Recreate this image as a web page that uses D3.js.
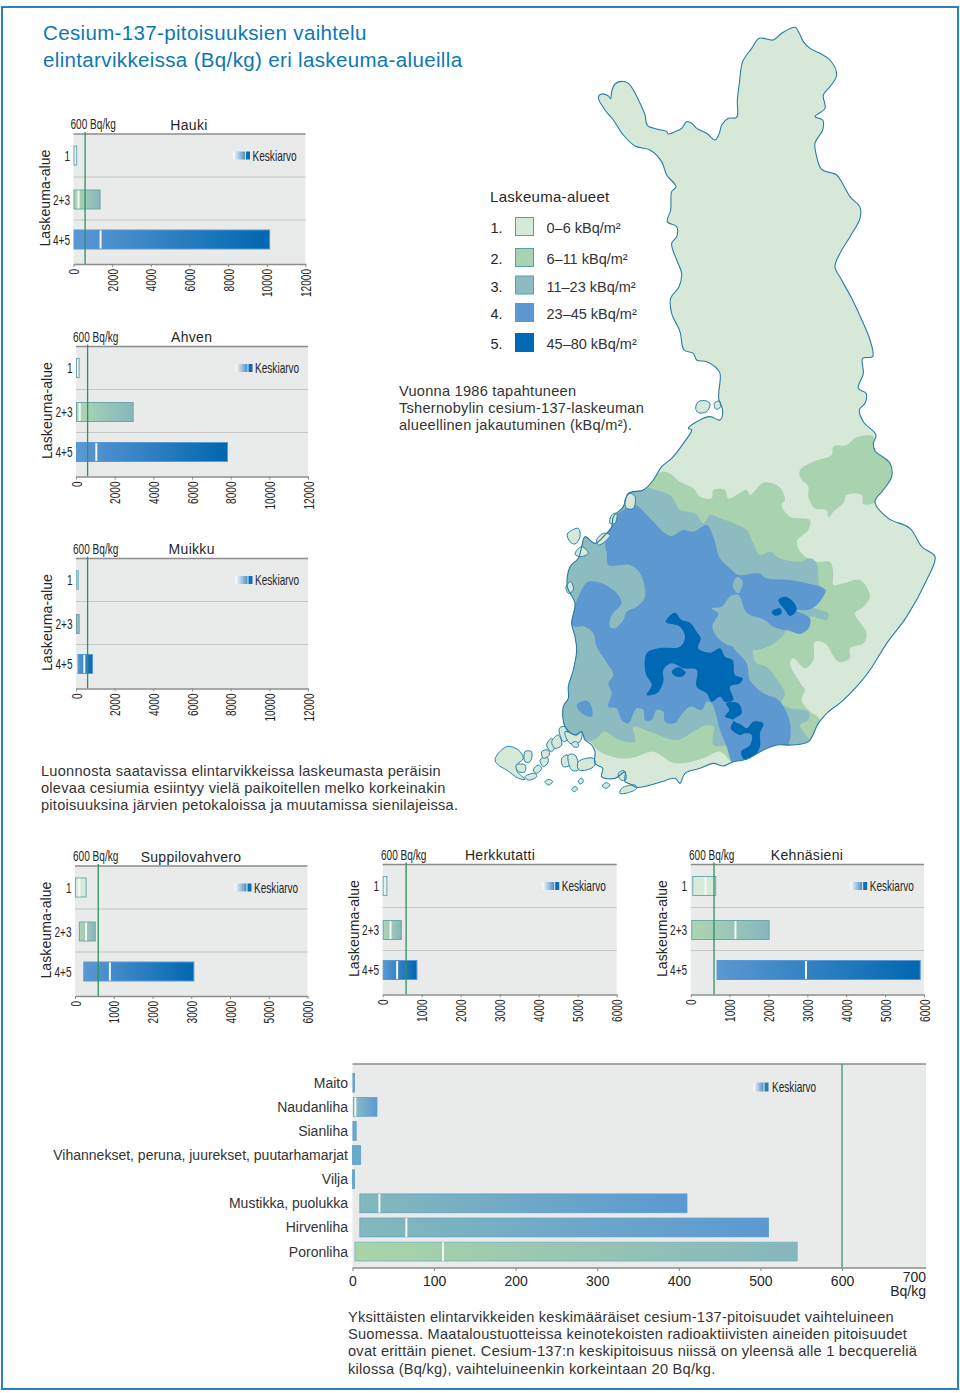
<!DOCTYPE html>
<html><head><meta charset="utf-8">
<script src="https://cdn.jsdelivr.net/npm/d3@7"></script>
<style>
html,body{margin:0;padding:0;background:#fff}
svg{display:block}
text{font-family:"Liberation Sans",Arial,sans-serif;fill:#262626}
</style></head><body>
<svg id="c" width="960" height="1393"></svg>
<script>
// ---------- chart values ----------
const rowLabels = ["1","2+3","4+5"];
const foods = ["Hauki","Ahven","Muikku","Suppilovahvero","Herkkutatti","Kehnäsieni"];
const limitValue = 600;
const ticksLarge = [0,2000,4000,6000,8000,10000,12000];
const ticksSmall = [0,1000,2000,3000,4000,5000,6000];
const haukiLow  = [0,0,0],        haukiMean  = [null,260,1400],  haukiHigh  = [190,1400,10170];
const ahvenLow  = [0,0,0],        ahvenMean  = [null,190,1050],  ahvenHigh  = [190,2980,7860];
const muikkuLow = [0,0,80],       muikkuMean = [null,null,430],  muikkuHigh = [150,190,880];
const suppiloLow= [0,100,215],    suppiloMean= [110,285,900],    suppiloHigh= [300,535,3080];
const herkkuLow = [0,0,0],        herkkuMean = [null,200,370],   herkkuHigh = [120,490,890];
const kehnaLow  = [40,15,665],    kehnaMean  = [380,1150,2965],  kehnaHigh  = [655,2030,5915];

const products = ["Maito","Naudanliha","Sianliha","Vihannekset, peruna, juurekset, puutarhamarjat","Vilja","Mustikka, puolukka","Hirvenliha","Poronliha"];
const productLow  = [0.5,1,0.5,0,0,9,9,3];
const productMean = [null,3.5,null,null,null,33,66,111];
const productHigh = [2.5,30,4.5,10,2.5,410,510,545];
const productTicks = [0,100,200,300,400,500,600];

const legendNums = ["1.","2.","3.","4.","5."];
const legendTexts = ["0–6 kBq/m²","6–11 kBq/m²","11–23 kBq/m²","23–45 kBq/m²","45–80 kBq/m²"];
const areaColors = ["#d6e9d9","#a9d2ae","#8cbcc0","#5d98d1","#0069b4"];

const titleLines = ["Cesium-137-pitoisuuksien vaihtelu","elintarvikkeissa (Bq/kg) eri laskeuma-alueilla"];
const mapNote = ["Vuonna 1986 tapahtuneen","Tshernobylin  cesium-137-laskeuman","alueellinen jakautuminen (kBq/m²)."];
const midNote = ["Luonnosta saatavissa elintarvikkeissa laskeumasta peräisin","olevaa cesiumia esiintyy vielä paikoitellen melko korkeinakin","pitoisuuksina järvien petokaloissa ja muutamissa sienilajeissa."];
const endNote = ["Yksittäisten elintarvikkeiden keskimääräiset cesium-137-pitoisuudet vaihteluineen","Suomessa. Maataloustuotteissa keinotekoisten radioaktiivisten aineiden pitoisuudet","ovat erittäin pienet. Cesium-137:n keskipitoisuus niissä on yleensä alle 1 becquereliä","kilossa (Bq/kg), vaihteluineenkin korkeintaan 20 Bq/kg."];

// ---------- map geometry (traced map units) ----------
const coastNorth = [[355,232],[365,222],[385,228],[392,236],[395,215],[405,192],[425,184],[445,190],[460,210],[478,245],[495,285],[502,316],[530,327],[560,335],[565,342],[585,335],[605,325],[620,305],[635,310],[650,325],[680,340],[705,360],[718,340],[725,315],[745,295],[770,292],[772,240],[778,190],[788,125],[815,85],[838,55],[880,60],[905,40],[945,22],[958,40],[970,65],[990,85],[1020,100],[1050,120],[1070,165],[1050,200],[1030,225],[1035,265],[1005,290],[1028,300],[1028,330],[1005,370],[1010,410],[1025,448],[1070,465],[1090,495],[1110,530],[1140,562],[1140,595],[1110,650],[1080,700],[1065,740],[1085,780],[1115,835],[1150,910],[1170,960],[1178,1010],[1148,1015],[1150,1060],[1135,1105],[1158,1120],[1155,1150],[1138,1170],[1150,1205],[1188,1245]];
const coastSouth = [[1180,40],[1185,62],[1230,100],[1235,140],[1210,180],[1185,215],[1225,265],[1290,295],[1325,350],[1365,380],[1340,450],[1280,560],[1220,640],[1170,720],[1130,770],[1085,815],[1040,850],[1015,880],[985,935],[935,945],[890,945],[840,965],[800,988],[760,995],[730,1008],[700,1000],[660,1015],[615,1030],[600,1060],[585,1045],[545,1055],[500,1068],[470,1072],[450,1062],[435,1055],[435,1025],[405,1045],[365,1040],[368,1015],[345,1000],[345,965],[335,945],[315,930],[305,905],[285,915],[255,890],[250,830],[265,805],[265,770],[280,720],[290,660],[285,620],[275,580],[285,520],[262,470],[270,410],[295,385],[305,350],[315,320],[345,340],[375,315],[395,290],[400,260],[430,230],[445,190],[490,180],[520,150],[545,110],[575,85],[610,40],[635,0]];
const coastWest = [[625,1225],[650,1205],[690,1190],[720,1200],[728,1172],[716,1135],[720,1060],[705,1040],[680,1025],[650,1020],[640,1000],[612,990],[600,935],[575,880],[572,835],[597,800],[605,760],[590,720],[575,670],[590,650],[590,620],[562,605],[572,570],[575,515],[588,500],[560,465],[545,425],[510,390],[465,378],[430,345],[400,300],[375,270]];
const northUnits = 1230;
const mainland = [...coastNorth.map(p=>[p[0],p[1]-northUnits]),...coastSouth,...coastWest.map(p=>[p[0],p[1]-northUnits])];

const zone2NE = [[960,120],[1000,95],[1055,75],[1060,50],[1100,45],[1130,22],[1180,20],[1190,60],[1240,110],[1240,140],[1215,180],[1190,215],[1150,222],[1145,195],[1100,195],[1090,220],[1065,240],[1045,262],[1040,240],[1005,235],[985,200],[985,170],[962,145]];
const zone2Main = [[555,125],[600,155],[640,175],[660,200],[695,205],[700,180],[735,180],[745,205],[800,180],[810,195],[850,158],[890,165],[905,180],[915,210],[905,225],[930,260],[990,270],[985,300],[950,335],[970,375],[1010,395],[1050,395],[1060,430],[1060,465],[1090,460],[1140,450],[1170,500],[1150,530],[1125,550],[1160,610],[1150,640],[1110,655],[1110,685],[1075,695],[1035,640],[1005,635],[1000,690],[975,715],[940,685],[930,700],[965,765],[975,780],[965,810],[985,840],[1020,870],[990,945],[765,1000],[720,965],[670,985],[585,1000],[520,965],[470,980],[420,985],[355,962],[330,935],[240,890],[240,500],[300,330],[470,170]];
const zone3Main = [[520,178],[575,200],[600,240],[645,250],[670,280],[690,255],[720,265],[760,280],[800,300],[820,340],[840,375],[870,365],[900,385],[960,395],[990,385],[1010,400],[1020,470],[1040,480],[1000,530],[1045,550],[1040,570],[990,560],[990,590],[960,610],[915,605],[880,640],[820,660],[830,700],[860,710],[885,740],[915,790],[905,820],[930,835],[985,845],[985,870],[960,885],[990,945],[765,1000],[745,950],[700,945],[700,890],[680,885],[640,905],[590,930],[510,905],[460,890],[465,935],[420,930],[370,905],[350,925],[310,935],[240,890],[240,500],[300,330],[470,170]];
const zone4Main = [[375,340],[385,300],[405,260],[430,240],[465,225],[510,265],[555,310],[575,318],[610,300],[640,305],[680,285],[700,320],[720,385],[750,415],[775,435],[835,430],[860,445],[930,450],[980,460],[1035,480],[1015,520],[985,540],[945,540],[990,565],[985,595],[960,612],[915,600],[880,640],[820,660],[760,650],[800,700],[810,750],[850,790],[895,810],[925,860],[932,910],[920,950],[890,950],[840,970],[800,995],[760,1000],[740,950],[720,900],[695,820],[680,815],[665,840],[630,830],[600,860],[585,880],[555,875],[550,845],[530,840],[515,870],[495,870],[490,840],[470,835],[445,880],[425,870],[410,835],[385,830],[395,790],[385,760],[400,735],[375,690],[350,650],[340,610],[315,590],[285,590],[270,580],[285,525],[310,470],[325,455],[365,460],[410,490],[425,520],[395,555],[390,590],[405,595],[430,570],[440,545],[470,530],[495,500],[480,430],[450,405],[385,405],[380,370]];
const zone3Patch = [[695,535],[725,530],[750,500],[775,495],[800,548],[850,568],[880,590],[915,605],[880,640],[820,660],[765,652],[720,630],[697,590],[715,550]];
const zone3Speck = [[772,440],[788,455],[775,490],[758,468]];
const zone4Speck = [[290,825],[320,812],[335,830],[335,860],[305,850]];
const zone5Main = [[557,575],[585,548],[605,570],[630,578],[650,605],[662,625],[655,655],[690,668],[720,655],[735,680],[758,690],[765,735],[788,745],[780,760],[750,770],[760,810],[735,815],[720,800],[695,815],[680,790],[650,770],[650,720],[610,715],[575,700],[550,720],[550,755],[530,790],[500,795],[515,765],[497,730],[500,670],[535,655],[600,650],[615,620],[600,590]];
const zone5Speck = [[575,725],[595,712],[617,728],[605,740],[585,738]];
const zone5South = [[738,820],[775,820],[785,850],[760,870],[785,885],[800,895],[820,875],[850,880],[840,910],[840,950],[825,975],[795,990],[783,965],[810,945],[815,915],[795,910],[780,915],[752,895],[760,870],[735,860],[748,840]];
const zone5East1 = [[895,510],[915,500],[940,515],[950,540],[930,558],[915,540]];
const zone5East2 = [[875,545],[900,535],[905,550],[885,557]];
const zoneLayers = [[zone2NE,1],[zone2Main,1],[zone3Main,2],[zone4Main,3],[zone3Patch,2],[zone3Speck,2],[zone4Speck,3],[zone5Main,4],[zone5Speck,4],[zone5South,4],[zone5East1,4],[zone5East2,4]];
const islands = [
[[45,988],[80,950],[115,960],[130,985],[110,1005],[112,1025],[135,1048],[115,1045],[80,1020],[55,1005]],
[[135,965],[155,965],[150,995],[135,995]],[[108,1005],[135,1005],[135,1025],[115,1025]],
[[135,1040],[165,1030],[170,1040],[145,1050]],[[160,1020],[175,1005],[185,1015],[170,1030]],
[[180,990],[200,980],[205,995],[190,1010]],[[185,965],[205,960],[208,975],[190,985]],
[[200,945],[215,925],[225,945],[215,965]],[[215,935],[235,915],[245,945],[225,955]],
[[238,895],[255,890],[265,925],[250,935]],[[255,905],[290,915],[305,905],[300,935],[270,940]],
[[275,940],[290,935],[295,950],[280,950]],[[245,985],[262,975],[270,1005],[250,1010]],
[[265,975],[285,975],[295,1020],[275,1020]],[[295,995],[340,985],[345,1005],[320,1020],[295,1018]],
[[195,1055],[208,1048],[218,1055],[205,1065]],[[295,1052],[305,1045],[310,1055],[300,1062]],
[[275,1078],[285,1070],[293,1075],[283,1085]],[[367,1068],[378,1058],[390,1065],[378,1075]],
[[420,1090],[425,1075],[465,1065],[470,1075],[445,1088]],[[415,1030],[432,1022],[438,1048],[422,1050]],
[[262,312],[295,295],[300,320],[285,342],[270,335]],[[435,210],[450,190],[465,200],[460,235],[440,235]],
[[395,255],[410,250],[405,280],[390,280]],[[350,330],[370,310],[390,315],[375,335],[355,345]],
[[285,372],[305,350],[325,370],[300,380]],[[258,470],[272,455],[280,480],[265,490]],
[[647,-65],[655,-85],[680,-87],[690,-78],[680,-55],[655,-52]],[[703,-80],[718,-87],[722,-70],[708,-62]]
];

// ---------- layout (separate from values) ----------
const svg = d3.select("#c");
const defs = svg.append("defs");
const ink = "#262626", blue = "#0b78b4", green = "#2f9160", gray = "#8c8c8c", sep = "#c4c6c6", panelBg = "#e9ebeb";
const narrow = .72;

svg.append("rect").attr("x",2).attr("y",7).attr("width",956).attr("height",1382)
  .attr("fill","none").attr("stroke","#2f7fb5").attr("stroke-width",2);

function lines(arr,x,y0,dy,size,color,ls){
  svg.append("g").selectAll("text").data(arr).join("text")
    .attr("x",x).attr("y",(d,i)=>y0+i*dy).attr("font-size",size)
    .style("fill",color||ink).style("letter-spacing",ls||null).text(d=>d);
}
lines(titleLines,43,40,27,20.5,blue,"0.35px");
lines(mapNote,399,396,16.8,14.6,"#333","0.25px");
lines(midNote,41,776,17.2,14.6,"#333","0.25px");
lines(endNote,348,1322,17.2,14.6,"#333","0.25px");

// narrow text: real text, horizontally condensed
function narrowText(g,x,y,txt,size,anchor,rot){
  return g.append("text").attr("font-size",size).attr("text-anchor",anchor||"start")
    .attr("transform",`translate(${x},${y})${rot?" rotate(-90)":""} scale(${narrow},1)`).text(txt);
}

let gid = 0;
function gradient(c0,c1){
  const id = "g"+(gid++);
  const g = defs.append("linearGradient").attr("id",id);
  g.append("stop").attr("offset",0).attr("stop-color",c0);
  g.append("stop").attr("offset",1).attr("stop-color",c1);
  return `url(#${id})`;
}
const keyGrad = gradient("#ffffff","#4d8fc4");

// ---------- small panels ----------
const fills = {
  light:["#d8ead9","#d8ead9","#6fa8b8"], pale:["#eef5ef","#e0eee2","#6fa8b8"],
  teal:["#a3cbd2","#9cc5cf","#8cbcc4"], teal2:["#8fbdc0","#8fbdc0","#6fa5a8"],
  mid:["#aed6b3","#86b6bc","#6ea7a8"], deep:["#5b98d3","#0067b0","#5b98d3"]
};
const panels = [
 {name:foods[0],low:haukiLow,mean:haukiMean,high:haukiHigh,ticks:ticksLarge,x0:73.5,x1:305.5,top:134,lab:70.5,tx:189,ty:129.5,f:["pale","mid","deep"]},
 {name:foods[1],low:ahvenLow,mean:ahvenMean,high:ahvenHigh,ticks:ticksLarge,x0:76,x1:308,top:346.5,lab:73,tx:191.7,ty:342,f:["pale","mid","deep"]},
 {name:foods[2],low:muikkuLow,mean:muikkuMean,high:muikkuHigh,ticks:ticksLarge,x0:76,x1:308,top:558.5,lab:73,tx:191.7,ty:554,f:["teal","teal2","deep"]},
 {name:foods[3],low:suppiloLow,mean:suppiloMean,high:suppiloHigh,ticks:ticksSmall,x0:75,x1:307.5,top:866,lab:73,tx:191,ty:862,f:["light","mid","deep"]},
 {name:foods[4],low:herkkuLow,mean:herkkuMean,high:herkkuHigh,ticks:ticksSmall,x0:382.7,x1:616.7,top:864.5,lab:381,tx:500,ty:860,f:["pale","mid","deep"]},
 {name:foods[5],low:kehnaLow,mean:kehnaMean,high:kehnaHigh,ticks:ticksSmall,x0:690.7,x1:924,top:864.5,lab:689,tx:807,ty:860,f:["light","mid","deep"]}
];
const bandY = d3.scaleOrdinal().domain(rowLabels).range([21.5,65.5,105.5]);
const panelH = 130, barH = 19;

panels.forEach(p=>{
  const g = svg.append("g");
  const x = d3.scaleLinear().domain(d3.extent(p.ticks)).range([p.x0,p.x1]);
  g.append("rect").attr("x",p.x0).attr("y",p.top).attr("width",p.x1-p.x0).attr("height",panelH).attr("fill",panelBg);
  g.selectAll("line.s").data([43,86]).join("line").attr("x1",p.x0).attr("x2",p.x1)
    .attr("y1",d=>p.top+d).attr("y2",d=>p.top+d).attr("stroke",sep).attr("stroke-width",1);
  g.append("line").attr("x1",p.x0).attr("x2",p.x1).attr("y1",p.top).attr("y2",p.top).attr("stroke",gray).attr("stroke-width",1.4);

  rowLabels.forEach((r,i)=>{
    const st = fills[p.f[i]];
    const cy = p.top+bandY(r);
    g.append("rect").attr("x",x(p.low[i])+.5).attr("y",cy-barH/2)
      .attr("width",Math.max(1,x(p.high[i])-x(p.low[i])-1)).attr("height",barH)
      .attr("fill",gradient(st[0],st[1])).attr("stroke",st[2]).attr("stroke-width",1);
    if(p.mean[i]!==null) g.append("rect").attr("x",x(p.mean[i])-1).attr("y",cy-barH/2+.5).attr("width",2).attr("height",barH-1).attr("fill","#f4f8f6");
    narrowText(g,p.x0-3.5,cy+5,r,14,"end");
  });

  g.append("line").attr("x1",x(limitValue)).attr("x2",x(limitValue)).attr("y1",p.top-2).attr("y2",p.top+panelH)
    .attr("stroke",green).attr("stroke-width",1.3);

  const ax = g.append("g").attr("transform",`translate(0,${p.top+panelH})`)
    .call(d3.axisBottom(x).tickValues(p.ticks).tickFormat(d3.format("d")).tickSize(3).tickSizeOuter(0));
  ax.select(".domain").attr("stroke",gray).attr("stroke-width",1.4);
  ax.selectAll(".tick line").attr("stroke",gray);
  ax.selectAll(".tick text").attr("x",null).attr("y",null).attr("dy",null)
    .attr("font-family",null).attr("font-size",14).attr("text-anchor","end").style("fill",ink)
    .attr("transform",`translate(5,5) rotate(-90) scale(${narrow},1)`);

  g.append("text").attr("x",p.tx).attr("y",p.ty).attr("text-anchor","middle").attr("font-size",14).style("letter-spacing","0.3px").text(p.name);
  narrowText(g,p.lab,p.top-5,limitValue+" Bq/kg",14);
  g.append("text").attr("transform",`translate(${p.x0-24},${p.top+64}) rotate(-90)`).attr("text-anchor","middle").attr("font-size",14).style("letter-spacing","0.1px").text("Laskeuma-alue");

  const kx = p.x0+159.5, ky = p.top+21.5;
  g.append("rect").attr("x",kx).attr("y",ky-4).attr("width",12).attr("height",8).attr("fill",keyGrad);
  g.append("rect").attr("x",kx+13).attr("y",ky-4).attr("width",4).attr("height",8).attr("fill","#0b6fb5");
  narrowText(g,kx+19.5,ky+5,"Keskiarvo",14);
});

// ---------- product panel ----------
(function(){
  const g = svg.append("g");
  const x0 = 352.5, top = 1064, bottom = 1268, right = 926;
  const x = d3.scaleLinear().domain([0,700]).range([x0,923.6]);
  const y = d3.scaleBand().domain(products).range([1073.3,1261]).paddingInner(.22).paddingOuter(0);
  g.append("rect").attr("x",x0).attr("y",top).attr("width",right-x0).attr("height",bottom-top).attr("fill",panelBg);
  g.append("line").attr("x1",x0).attr("x2",right).attr("y1",top).attr("y2",top).attr("stroke",gray).attr("stroke-width",1.4);
  const barColors = [["#6aa8cc","#6aa8cc"],["#8fbcc4","#5b98d3"],["#6aa8cc","#6aa8cc"],["#6aa8cc","#6aa8cc"],["#6aa8cc","#6aa8cc"],["#83b9bb","#5b98d3"],["#83b9bb","#5b98d3"],["#a9d4a8","#86b6bc"]];
  products.forEach((n,i)=>{
    g.append("rect").attr("x",x(productLow[i])).attr("y",y(n)).attr("width",x(productHigh[i])-x(productLow[i])).attr("height",y.bandwidth())
      .attr("fill",gradient(barColors[i][0],barColors[i][1])).attr("stroke",i==7?"#6fb0b8":"#5d9fc4").attr("stroke-width",.8);
    if(productMean[i]!==null) g.append("rect").attr("x",x(productMean[i])-1).attr("y",y(n)).attr("width",2).attr("height",y.bandwidth()).attr("fill","#f4f8f6");
    g.append("text").attr("x",348).attr("y",y(n)+y.bandwidth()/2+5).attr("text-anchor","end").attr("font-size",14).style("fill","#333").text(n);
  });
  g.append("line").attr("x1",x(limitValue)).attr("x2",x(limitValue)).attr("y1",top).attr("y2",bottom).attr("stroke",green).attr("stroke-width",1.2);
  const ax = g.append("g").attr("transform",`translate(0,${bottom})`)
    .call(d3.axisBottom(x).tickValues(productTicks).tickFormat(d3.format("d")).tickSize(3).tickSizeOuter(0));
  ax.select(".domain").remove();
  g.append("line").attr("x1",x0).attr("x2",right).attr("y1",bottom).attr("y2",bottom).attr("stroke",gray).attr("stroke-width",1.4);
  ax.selectAll(".tick line").attr("stroke",gray);
  ax.selectAll(".tick text").attr("font-family",null).attr("font-size",14).attr("y",5).attr("dy","0.95em").style("fill",ink);
  g.append("text").attr("x",right).attr("y",1282).attr("text-anchor","end").attr("font-size",14).text("700");
  g.append("text").attr("x",right).attr("y",1296).attr("text-anchor","end").attr("font-size",14).text("Bq/kg");
  const kx = 753.5, ky = 1087;
  g.append("rect").attr("x",kx).attr("y",ky-4.5).attr("width",10).attr("height",9).attr("fill",keyGrad);
  g.append("rect").attr("x",kx+11).attr("y",ky-4.5).attr("width",4).attr("height",9).attr("fill","#2b7ea8");
  narrowText(g,772,ky+5,"Keskiarvo",14);
})();

// ---------- map ----------
const mx = d3.scaleLinear().domain([0,1440]).range([480,960]);
const my = d3.scaleLinear().domain([0,1140]).range([430,810]);
const path = d3.line().x(d=>mx(d[0])).y(d=>my(d[1])).curve(d3.curveCatmullRomClosed.alpha(.5));
defs.append("clipPath").attr("id","land").append("path").attr("d",path(mainland));
const mapG = svg.append("g");
mapG.append("path").attr("d",path(mainland)).attr("fill",areaColors[0]);
mapG.append("g").attr("clip-path","url(#land)").selectAll("path").data(zoneLayers).join("path")
  .attr("d",d=>path(d[0])).attr("fill",d=>areaColors[d[1]]);
mapG.selectAll("path.i").data(islands).join("path").attr("class","i").attr("d",d=>path(d))
  .attr("fill",areaColors[0]).attr("stroke","#2583ae").attr("stroke-width",1);
mapG.append("path").attr("d",path(mainland)).attr("fill","none").attr("stroke","#2a7ba3").attr("stroke-width",1.1);

// ---------- map legend ----------
svg.append("text").attr("x",490).attr("y",202).attr("font-size",15).style("letter-spacing","0.3px").text("Laskeuma-alueet");
const legY = [217,248,275.5,303,333];
const legend = svg.append("g");
legendNums.forEach((n,i)=>{
  legend.append("text").attr("x",490.5).attr("y",legY[i]+16).attr("font-size",14.5).text(n);
  legend.append("rect").attr("x",515.5).attr("y",legY[i]+.5).attr("width",18).attr("height",18)
    .attr("fill",areaColors[i]).attr("stroke",i==4?"#0069b4":"#5a9cb0").attr("stroke-width",1);
  legend.append("text").attr("x",546.5).attr("y",legY[i]+16).attr("font-size",14.5).style("fill","#333").text(legendTexts[i]);
});
</script></body></html>
